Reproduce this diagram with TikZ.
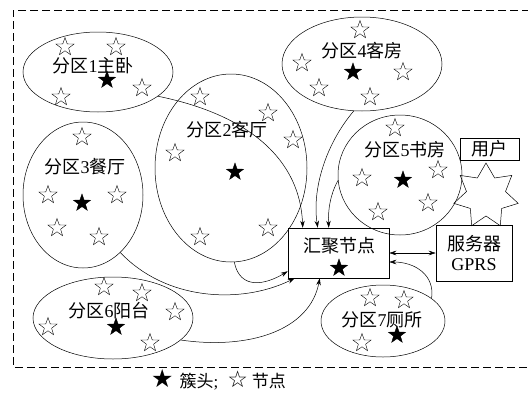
\documentclass[tikz,border=0pt]{standalone}
\usepackage{fontspec}
\setmainfont{Liberation Serif}
\newfontfamily\cjkfont{Noto Sans CJK SC}
\newfontfamily\symfont{DejaVu Sans}
\usetikzlibrary{shapes.geometric,arrows.meta}
\newcommand{\plotStars}[2]
{
	\foreach \p [count=\k] in {#2}
		\node[hstar] (#1-\k) at \p {};
}

\begin{document}
\begin{tikzpicture}[x=1pt,y=-1pt,>={Stealth[length=7pt,width=4.5pt]},line width=0.5pt,
	every node/.style={font=\cjkfont\fontsize{18}{20}\selectfont},
	zone/.style={draw,ellipse,inner sep=0pt},
	box/.style={draw,rectangle,inner sep=0pt},
	hstar/.style={draw,star,star points=5,star point ratio=2.5,minimum size=19pt,inner sep=0pt,line width=0.4pt},
	fstar/.style={hstar,fill=black,minimum size=18pt}]
\useasboundingbox (0,0) rectangle (528,394);
\draw[dash pattern=on 8pt off 4pt] (530,10) -- (13,10) -- (13,367) -- (530,367);

% zones
\node[zone,minimum width=150pt,minimum height=80pt]  (Z1) at (98,72)   {};
\node[zone,minimum width=152pt,minimum height=188pt] (Z2) at (231,168) {};
\node[zone,minimum width=120pt,minimum height=146pt] (Z3) at (83,195)  {};
\node[zone,minimum width=160pt,minimum height=94pt]  (Z4) at (362,64)  {};
\node[zone,minimum width=124pt,minimum height=120pt] (Z5) at (400,175) {};
\node[zone,minimum width=160pt,minimum height=82pt]  (Z6) at (113,318) {};
\node[zone,minimum width=124pt,minimum height=72pt]  (Z7) at (383,321) {};

\node (Z1T) at (93,66)  {分区\textrm{1}主卧};
\node (Z2T) at (227,130) {分区\textrm{2}客厅};
\node (Z3T) at (85,167) {分区\textrm{3}餐厅};
\node (Z4T) at (362,51) {分区\textrm{4}客房};
\node (Z5T) at (405,150) {分区\textrm{5}书房};
\node (Z6T) at (109,311) {分区\textrm{6}阳台};
\node (Z7T) at (382,320) {分区\textrm{7}厕所};

% nodes and cluster heads
\plotStars{Z1}{(65,47),(116,47),(61,97),(142,88)}
\plotStars{Z2}{(200,97),(268,113),(293,140),(175,153),(200,237),(268,228)}
\plotStars{Z3}{(82,137),(48,195),(117,195),(57,228),(99,237)}
\plotStars{Z4}{(360,30),(302,63),(403,72),(319,88),(370,97)}
\plotStars{Z5}{(395,128),(438,170),(362,178),(378,212),(428,203)}
\plotStars{Z6}{(104,287),(142,293),(175,312),(48,327),(150,343)}
\plotStars{Z7}{(370,298),(404,300),(362,343)}
\node[fstar] (Z1H) at (107,80)  {};
\node[fstar] (Z2H) at (235,172) {};
\node[fstar] (Z3H) at (82,203)  {};
\node[fstar] (Z4H) at (353,72)  {};
\node[fstar] (Z5H) at (403,180) {};
\node[fstar] (Z6H) at (116,327) {};
\node[fstar] (Z7H) at (397,335) {};

% sink, server, user
\node[box,minimum width=101pt,minimum height=50pt] (Sink) at (338.5,253) {};
\node (SinkT) at (339,246) {汇聚节点};
\node[fstar] (SinkH) at (339,268) {};
\node[box,minimum width=76pt,minimum height=56pt,align=center] (Server) at (474,253) {服务器\\\textrm{GPRS}};
\node[box,minimum width=59pt,minimum height=22pt] (User) at (489.5,149) {用户};
\node[draw,star,star points=7,star point ratio=1.65,minimum size=66pt,inner sep=0pt] (Net) at (486,196) {};

\draw[->] (Z1.-22) .. controls (250,115) and (300,160) .. ([xshift=15pt]Sink.north west);
\draw[->] (Z4.-100) .. controls (325,145) and (312,190) .. ([xshift=30pt]Sink.north west);
\draw[->] (Z5.185) .. controls (330,195) and (328,210) .. ([xshift=41pt]Sink.north west);
\draw[->] (Z2.-88) .. controls (240,290) and (265,285) .. ([yshift=7pt]Sink.south west);
\draw[->] (Z3.-57) .. controls (165,300) and (240,305) .. ([xshift=7pt]Sink.south west);
\draw[->] (Z6.-18) .. controls (250,350) and (310,330) .. ([xshift=32pt]Sink.south west);
\draw[->] (Z7.25) .. controls (435,275) and (415,262) .. ([yshift=-9pt]Sink.east);
\draw[<->] (Sink.east) -- (Server.west);

\node[font=\cjkfont\fontsize{17}{18}\selectfont] (Legend) at (218.5,380)
	{{\symfont\fontsize{25}{18}\selectfont ★}\hspace{6pt}簇头\textrm{;}\hspace{9pt}{\symfont\fontsize{23}{18}\selectfont ☆}\hspace{4pt}节点};
\end{tikzpicture}
\end{document}
